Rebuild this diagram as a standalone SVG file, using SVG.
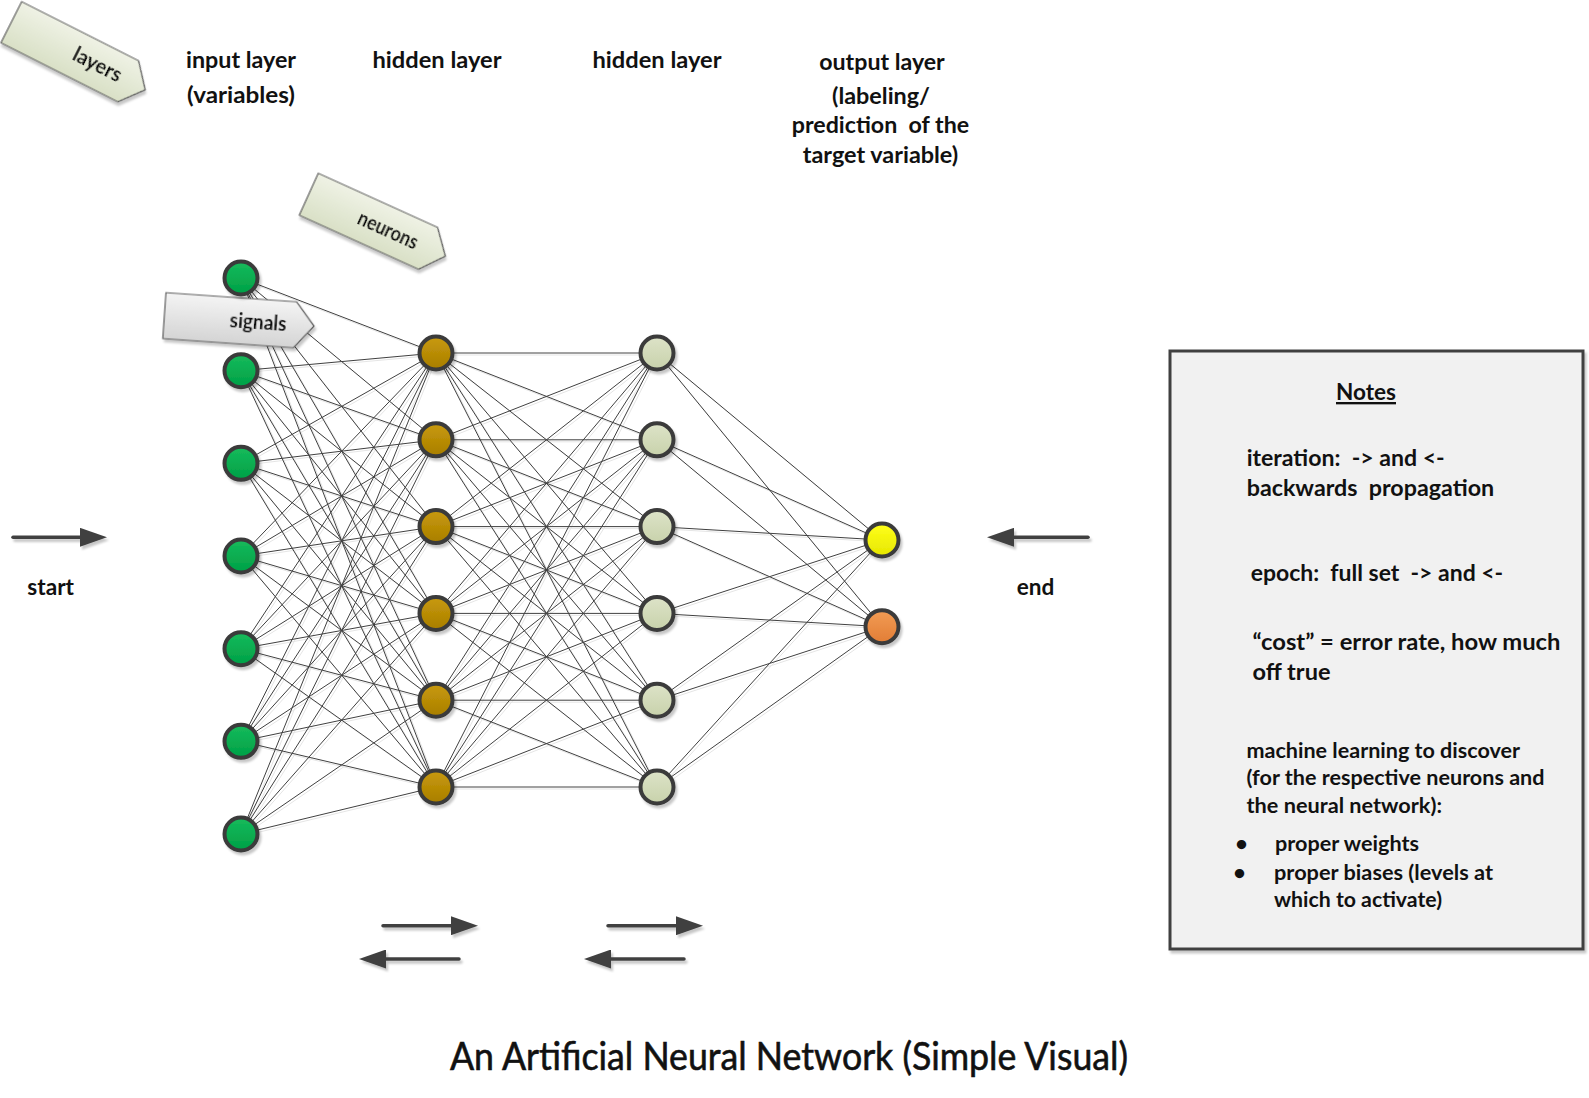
<svg xmlns="http://www.w3.org/2000/svg" width="1589" height="1098" viewBox="0 0 1589 1098">
<style>
text{font-family:Lato,"Open Sans","Liberation Sans",sans-serif;font-weight:bold;fill:#111;white-space:pre}
.lbl{font-size:23.5px;text-anchor:middle}
.note{font-size:23.5px}
.note2{font-size:21.5px}
.co{font-size:20px;text-anchor:middle}
.title{font-size:38px;font-weight:normal;text-anchor:middle;stroke:#111;stroke-width:0.6}
.n{stroke:#3a3a3a;stroke-width:4}
.in{fill:url(#gIn)}
.h1{fill:url(#gH1)}
.h2{fill:url(#gH2)}
.o1{fill:url(#gO1)}
.o2{fill:url(#gO2)}
#conn line{stroke:#404040;stroke-width:1}
.arr{stroke:#404040;stroke-width:3.5;stroke-linecap:round;fill:none;marker-end:url(#ah)}
.callG{fill:url(#gCall);stroke:#5a5a5a;stroke-width:1.2}
.callS{fill:url(#gSig);stroke:#5a5a5a;stroke-width:1.2}
</style>
<defs>
<linearGradient id="gIn" x1="0" y1="0" x2="0" y2="1"><stop offset="0" stop-color="#16bb5c"/><stop offset="1" stop-color="#00a046"/></linearGradient>
<linearGradient id="gH1" x1="0" y1="0" x2="0" y2="1"><stop offset="0" stop-color="#c99a0c"/><stop offset="1" stop-color="#a87e00"/></linearGradient>
<linearGradient id="gH2" x1="0" y1="0" x2="0" y2="1"><stop offset="0" stop-color="#dde3c8"/><stop offset="1" stop-color="#c8d2ab"/></linearGradient>
<linearGradient id="gO1" x1="0" y1="0" x2="0" y2="1"><stop offset="0" stop-color="#ffff1a"/><stop offset="1" stop-color="#e6e600"/></linearGradient>
<linearGradient id="gO2" x1="0" y1="0" x2="0" y2="1"><stop offset="0" stop-color="#f29c55"/><stop offset="1" stop-color="#e27d35"/></linearGradient>
<linearGradient id="gCall" x1="0" y1="0" x2="0" y2="1"><stop offset="0" stop-color="#eff2e5"/><stop offset="1" stop-color="#d9e0c6"/></linearGradient>
<linearGradient id="gSig" x1="0" y1="0" x2="0" y2="1"><stop offset="0" stop-color="#f4f4f4"/><stop offset="1" stop-color="#d4d4d4"/></linearGradient>
<filter id="sh" x="-20%" y="-20%" width="140%" height="140%"><feDropShadow dx="2" dy="3" stdDeviation="1.2" flood-color="#000" flood-opacity="0.22"/></filter>
<filter id="lsh" x="-5%" y="-5%" width="110%" height="110%"><feDropShadow dx="2" dy="2" stdDeviation="0.6" flood-color="#000" flood-opacity="0.1"/></filter>
<marker id="ah" markerUnits="userSpaceOnUse" markerWidth="27" markerHeight="19" viewBox="0 0 27 19" refX="2" refY="9.5" orient="auto"><path d="M0,0 L27,9.5 L0,19 z" fill="#404040"/></marker>
<polygon id="callShape" points="0,0 131,0 150,23 131,46 0,46"/>
</defs>
<rect width="1589" height="1098" fill="#fff"/>

<g id="conn" filter="url(#lsh)">
<line x1="241" y1="278" x2="436" y2="353"/><line x1="241" y1="278" x2="436" y2="439.8"/><line x1="241" y1="278" x2="436" y2="526.6"/><line x1="241" y1="278" x2="436" y2="613.4"/><line x1="241" y1="278" x2="436" y2="700.2"/><line x1="241" y1="278" x2="436" y2="787"/>
<line x1="241" y1="370.7" x2="436" y2="353"/><line x1="241" y1="370.7" x2="436" y2="439.8"/><line x1="241" y1="370.7" x2="436" y2="526.6"/><line x1="241" y1="370.7" x2="436" y2="613.4"/><line x1="241" y1="370.7" x2="436" y2="700.2"/><line x1="241" y1="370.7" x2="436" y2="787"/>
<line x1="241" y1="463.3" x2="436" y2="353"/><line x1="241" y1="463.3" x2="436" y2="439.8"/><line x1="241" y1="463.3" x2="436" y2="526.6"/><line x1="241" y1="463.3" x2="436" y2="613.4"/><line x1="241" y1="463.3" x2="436" y2="700.2"/><line x1="241" y1="463.3" x2="436" y2="787"/>
<line x1="241" y1="556" x2="436" y2="353"/><line x1="241" y1="556" x2="436" y2="439.8"/><line x1="241" y1="556" x2="436" y2="526.6"/><line x1="241" y1="556" x2="436" y2="613.4"/><line x1="241" y1="556" x2="436" y2="700.2"/><line x1="241" y1="556" x2="436" y2="787"/>
<line x1="241" y1="648.7" x2="436" y2="353"/><line x1="241" y1="648.7" x2="436" y2="439.8"/><line x1="241" y1="648.7" x2="436" y2="526.6"/><line x1="241" y1="648.7" x2="436" y2="613.4"/><line x1="241" y1="648.7" x2="436" y2="700.2"/><line x1="241" y1="648.7" x2="436" y2="787"/>
<line x1="241" y1="741.3" x2="436" y2="353"/><line x1="241" y1="741.3" x2="436" y2="439.8"/><line x1="241" y1="741.3" x2="436" y2="526.6"/><line x1="241" y1="741.3" x2="436" y2="613.4"/><line x1="241" y1="741.3" x2="436" y2="700.2"/><line x1="241" y1="741.3" x2="436" y2="787"/>
<line x1="241" y1="834" x2="436" y2="353"/><line x1="241" y1="834" x2="436" y2="439.8"/><line x1="241" y1="834" x2="436" y2="526.6"/><line x1="241" y1="834" x2="436" y2="613.4"/><line x1="241" y1="834" x2="436" y2="700.2"/><line x1="241" y1="834" x2="436" y2="787"/>
<line x1="436" y1="353" x2="657" y2="353"/><line x1="436" y1="353" x2="657" y2="439.8"/><line x1="436" y1="353" x2="657" y2="526.6"/><line x1="436" y1="353" x2="657" y2="613.4"/><line x1="436" y1="353" x2="657" y2="700.2"/><line x1="436" y1="353" x2="657" y2="787"/>
<line x1="436" y1="439.8" x2="657" y2="353"/><line x1="436" y1="439.8" x2="657" y2="439.8"/><line x1="436" y1="439.8" x2="657" y2="526.6"/><line x1="436" y1="439.8" x2="657" y2="613.4"/><line x1="436" y1="439.8" x2="657" y2="700.2"/><line x1="436" y1="439.8" x2="657" y2="787"/>
<line x1="436" y1="526.6" x2="657" y2="353"/><line x1="436" y1="526.6" x2="657" y2="439.8"/><line x1="436" y1="526.6" x2="657" y2="526.6"/><line x1="436" y1="526.6" x2="657" y2="613.4"/><line x1="436" y1="526.6" x2="657" y2="700.2"/><line x1="436" y1="526.6" x2="657" y2="787"/>
<line x1="436" y1="613.4" x2="657" y2="353"/><line x1="436" y1="613.4" x2="657" y2="439.8"/><line x1="436" y1="613.4" x2="657" y2="526.6"/><line x1="436" y1="613.4" x2="657" y2="613.4"/><line x1="436" y1="613.4" x2="657" y2="700.2"/><line x1="436" y1="613.4" x2="657" y2="787"/>
<line x1="436" y1="700.2" x2="657" y2="353"/><line x1="436" y1="700.2" x2="657" y2="439.8"/><line x1="436" y1="700.2" x2="657" y2="526.6"/><line x1="436" y1="700.2" x2="657" y2="613.4"/><line x1="436" y1="700.2" x2="657" y2="700.2"/><line x1="436" y1="700.2" x2="657" y2="787"/>
<line x1="436" y1="787" x2="657" y2="353"/><line x1="436" y1="787" x2="657" y2="439.8"/><line x1="436" y1="787" x2="657" y2="526.6"/><line x1="436" y1="787" x2="657" y2="613.4"/><line x1="436" y1="787" x2="657" y2="700.2"/><line x1="436" y1="787" x2="657" y2="787"/>
<line x1="657" y1="353" x2="882" y2="540"/><line x1="657" y1="353" x2="882" y2="626.7"/>
<line x1="657" y1="439.8" x2="882" y2="540"/><line x1="657" y1="439.8" x2="882" y2="626.7"/>
<line x1="657" y1="526.6" x2="882" y2="540"/><line x1="657" y1="526.6" x2="882" y2="626.7"/>
<line x1="657" y1="613.4" x2="882" y2="540"/><line x1="657" y1="613.4" x2="882" y2="626.7"/>
<line x1="657" y1="700.2" x2="882" y2="540"/><line x1="657" y1="700.2" x2="882" y2="626.7"/>
<line x1="657" y1="787" x2="882" y2="540"/><line x1="657" y1="787" x2="882" y2="626.7"/>
</g>

<g id="callout-layers" filter="url(#sh)" transform="translate(21.7,1.7) rotate(26.8)">
<use href="#callShape" class="callG"/>
<text class="co" x="96" y="29.5" textLength="52" lengthAdjust="spacingAndGlyphs">layers</text>
</g>
<g id="callout-neurons" filter="url(#sh)" transform="translate(318.3,173.3) rotate(24.4)">
<use href="#callShape" class="callG"/>
<text class="co" x="87" y="30" textLength="64" lengthAdjust="spacingAndGlyphs">neurons</text>
</g>
<g id="callout-signals" filter="url(#sh)" transform="translate(166,292.7) rotate(4)">
<use href="#callShape" class="callS"/>
<text class="co" x="94" y="30" textLength="57" lengthAdjust="spacingAndGlyphs">signals</text>
</g>

<g id="input-layer" filter="url(#sh)">
<g id="in1"><circle class="n in" cx="241" cy="278" r="16.5"/></g>
<g id="in2"><circle class="n in" cx="241" cy="370.7" r="16.5"/></g>
<g id="in3"><circle class="n in" cx="241" cy="463.3" r="16.5"/></g>
<g id="in4"><circle class="n in" cx="241" cy="556" r="16.5"/></g>
<g id="in5"><circle class="n in" cx="241" cy="648.7" r="16.5"/></g>
<g id="in6"><circle class="n in" cx="241" cy="741.3" r="16.5"/></g>
<g id="in7"><circle class="n in" cx="241" cy="834" r="16.5"/></g>
</g>
<g id="hidden-layer-1" filter="url(#sh)">
<g id="ha1"><circle class="n h1" cx="436" cy="353" r="16.5"/></g>
<g id="ha2"><circle class="n h1" cx="436" cy="439.8" r="16.5"/></g>
<g id="ha3"><circle class="n h1" cx="436" cy="526.6" r="16.5"/></g>
<g id="ha4"><circle class="n h1" cx="436" cy="613.4" r="16.5"/></g>
<g id="ha5"><circle class="n h1" cx="436" cy="700.2" r="16.5"/></g>
<g id="ha6"><circle class="n h1" cx="436" cy="787" r="16.5"/></g>
</g>
<g id="hidden-layer-2" filter="url(#sh)">
<g id="hb1"><circle class="n h2" cx="657" cy="353" r="16.5"/></g>
<g id="hb2"><circle class="n h2" cx="657" cy="439.8" r="16.5"/></g>
<g id="hb3"><circle class="n h2" cx="657" cy="526.6" r="16.5"/></g>
<g id="hb4"><circle class="n h2" cx="657" cy="613.4" r="16.5"/></g>
<g id="hb5"><circle class="n h2" cx="657" cy="700.2" r="16.5"/></g>
<g id="hb6"><circle class="n h2" cx="657" cy="787" r="16.5"/></g>
</g>
<g id="output-layer" filter="url(#sh)">
<g id="out1"><circle class="n o1" cx="882" cy="540" r="16.5"/></g>
<g id="out2"><circle class="n o2" cx="882" cy="626.7" r="16.5"/></g>
</g>

<g id="layer-labels">
<text class="lbl" x="241" y="68" textLength="110" lengthAdjust="spacingAndGlyphs">input layer</text>
<text class="lbl" x="241" y="103" textLength="108" lengthAdjust="spacingAndGlyphs">(variables)</text>
<text class="lbl" x="437" y="68" textLength="129" lengthAdjust="spacingAndGlyphs">hidden layer</text>
<text class="lbl" x="657" y="68" textLength="129" lengthAdjust="spacingAndGlyphs">hidden layer</text>
<text class="lbl" x="882" y="70" textLength="125.5" lengthAdjust="spacingAndGlyphs">output layer</text>
<text class="lbl" x="881" y="103.5" textLength="98" lengthAdjust="spacingAndGlyphs">(labeling/</text>
<text class="lbl" x="880.5" y="133" textLength="177.5" lengthAdjust="spacingAndGlyphs">prediction  of the</text>
<text class="lbl" x="880.5" y="162.5" textLength="155.5" lengthAdjust="spacingAndGlyphs">target variable)</text>
</g>

<g id="flow-arrows" filter="url(#sh)">
<line class="arr" x1="13" y1="537.3" x2="82" y2="537.3"/>
<line class="arr" x1="1088" y1="537.3" x2="1012" y2="537.3"/>
<line class="arr" x1="383" y1="925.7" x2="453" y2="925.7"/>
<line class="arr" x1="459" y1="959" x2="384" y2="959"/>
<line class="arr" x1="608" y1="925.7" x2="678" y2="925.7"/>
<line class="arr" x1="684" y1="959" x2="609" y2="959"/>
</g>
<text class="lbl" x="50.7" y="594.5" textLength="46.7" lengthAdjust="spacingAndGlyphs">start</text>
<text class="lbl" x="1035.5" y="594.5" textLength="37.6" lengthAdjust="spacingAndGlyphs">end</text>

<g id="notes">
<rect x="1170" y="351" width="413" height="598" fill="#f1f1f1" stroke="#404040" stroke-width="3" filter="url(#sh)"/>
<text class="note" x="1366" y="400" text-anchor="middle" text-decoration="underline" textLength="60" lengthAdjust="spacingAndGlyphs">Notes</text>
<text class="note" x="1246.7" y="466" textLength="198" lengthAdjust="spacingAndGlyphs">iteration:  -&gt; and &lt;-</text>
<text class="note" x="1246.7" y="496" textLength="247.5" lengthAdjust="spacingAndGlyphs">backwards  propagation</text>
<text class="note" x="1250.7" y="580.5" textLength="252.5" lengthAdjust="spacingAndGlyphs">epoch:  full set  -&gt; and &lt;-</text>
<text class="note" x="1252.5" y="650" textLength="308" lengthAdjust="spacingAndGlyphs">“cost” = error rate, how much</text>
<text class="note" x="1252.5" y="680" textLength="78" lengthAdjust="spacingAndGlyphs">off true</text>
<text class="note2" x="1246.5" y="758" textLength="273.5" lengthAdjust="spacingAndGlyphs">machine learning to discover</text>
<text class="note2" x="1246.5" y="785" textLength="298" lengthAdjust="spacingAndGlyphs">(for the respective neurons and</text>
<text class="note2" x="1246.5" y="812.5" textLength="195.5" lengthAdjust="spacingAndGlyphs">the neural network):</text>
<text class="note2" x="1241.5" y="851" text-anchor="middle">•</text>
<text class="note2" x="1275" y="851" textLength="144" lengthAdjust="spacingAndGlyphs">proper weights</text>
<text class="note2" x="1239.5" y="879.5" text-anchor="middle">•</text>
<text class="note2" x="1274" y="879.5" textLength="219" lengthAdjust="spacingAndGlyphs">proper biases (levels at</text>
<text class="note2" x="1274" y="907" textLength="168" lengthAdjust="spacingAndGlyphs">which to activate)</text>
</g>

<text class="title" x="789" y="1070" textLength="678" lengthAdjust="spacingAndGlyphs">An Artificial Neural Network (Simple Visual)</text>
</svg>
